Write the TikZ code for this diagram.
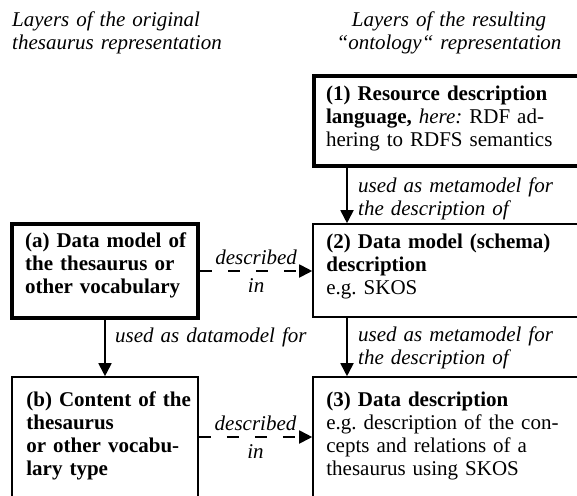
\documentclass[tikz,border=0pt]{standalone}
\usepackage{fontspec}
\setmainfont{Liberation Serif}
\usetikzlibrary{arrows.meta,calc}
\frenchspacing
\begin{document}
\begin{tikzpicture}[x=1pt,y=-1pt,
  every node/.style={font=\fontsize{21}{23}\selectfont},
  thinbox/.style={draw, line width=1.6pt, inner sep=0pt},
  thickbox/.style={draw, line width=4.2pt, inner sep=0pt},
  boxtext/.style={inner sep=0pt, align=left, anchor=base west},
  note/.style={inner sep=0pt, align=left, anchor=base west, text width=225pt,
               font=\fontsize{21}{23}\selectfont\itshape},
  linklabel/.style={inner sep=0pt, font=\fontsize{21}{23}\selectfont\itshape},
  arr/.style={line width=1.8pt, -{Triangle[length=13pt,width=13pt]}},
  dasharr/.style={arr, dash pattern=on 12pt off 16pt}]
  \useasboundingbox (0,0) rectangle (577,495);
  \clip (0,0) rectangle (577,495);

  % column headings
  \node[note, text width=230pt] (hl) at (12,27)
    {Layers of the original\\thesaurus representation};
  \node[inner sep=0pt, anchor=base, align=center, text width=260pt,
        font=\fontsize{21}{23}\selectfont\itshape] (hr) at (449,27)
    {Layers of the resulting\\“ontology“ representation};

  % boxes (right column runs past the right edge, bottom row past the bottom edge)
  \node[thickbox, minimum width=286pt, minimum height=90pt] (b1) at (457,121) {};
  \node[thinbox,  minimum width=287pt, minimum height=93pt] (b2) at (456.5,270.5) {};
  \node[thinbox,  minimum width=287pt, minimum height=143pt] (b3) at (456.5,448.5) {};
  \node[thickbox, minimum width=186pt, minimum height=94pt] (ba) at (105,271) {};
  \node[thinbox,  minimum width=186pt, minimum height=143pt] (bb) at (105,448.5) {};

  % box texts
  \node[boxtext, text width=255pt] (t1) at ($(b1.north west)+(14,27)$)
    {\textbf{(1) Resource description}\\
     \textbf{language,} \textit{here:} RDF ad-\\
     hering to RDFS semantics};
  \node[boxtext, text width=255pt] (t2) at ($(b2.north west)+(14,25)$)
    {\textbf{(2) Data model (schema)}\\
     \textbf{description}\\
     e.g. SKOS};
  \node[boxtext, text width=255pt] (t3) at ($(b3.north west)+(14,30)$)
    {\textbf{(3) Data description}\\
     e.g. description of the con-\\
     cepts and relations of a\\
     thesaurus using SKOS};
  \node[boxtext, text width=172pt] (ta) at ($(ba.north west)+(15,26)$)
    {\textbf{(a) Data model of}\\
     \textbf{the thesaurus or}\\
     \textbf{other vocabulary}};
  \node[boxtext, text width=172pt] (tb) at ($(bb.north west)+(15,30)$)
    {\textbf{(b) Content of the}\\
     \textbf{thesaurus}\\
     \textbf{or other vocabu-}\\
     \textbf{lary type}};

  % helper positions for the connectors
  \coordinate (col) at (347,0);
  \coordinate (low) at (0,437);

  % vertical connectors
  \draw[arr] (b1.south -| col) -- (b2.north -| col);
  \draw[arr] (b2.south -| col) -- (b3.north -| col);
  \draw[arr] (ba.south) -- (bb.north);

  \node[note] (n1) at ($(b1.south -| col)+(11,24)$)
    {used as metamodel for\\the description of};
  \node[note] (n2) at ($(b2.south -| col)+(11,24)$)
    {used as metamodel for\\the description of};
  \node[note] (n3) at ($(ba.south)+(10,22)$)
    {used as datamodel for};

  % horizontal "described in" connectors
  \draw[dasharr] (ba.east) -- (ba.east -| b2.west)
    node[linklabel, pos=0.5, above=5pt] {described}
    node[linklabel, pos=0.5, below=7pt] {in};
  \draw[dasharr] (bb.east |- low) -- (b3.west |- low)
    node[linklabel, pos=0.5, above=5pt] {described}
    node[linklabel, pos=0.5, below=7pt] {in};
\end{tikzpicture}
\end{document}
